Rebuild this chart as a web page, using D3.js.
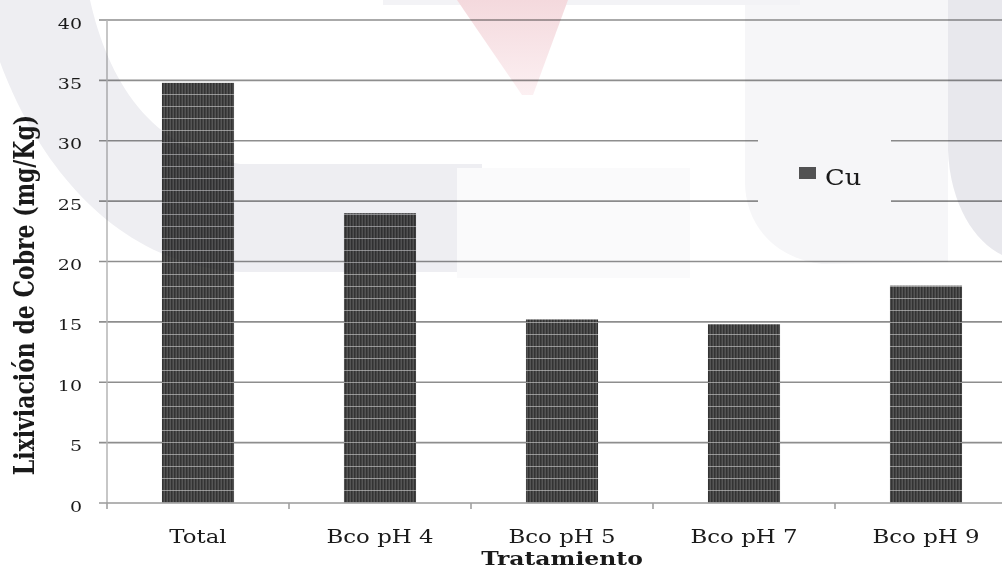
<!DOCTYPE html>
<html>
<head>
<meta charset="utf-8">
<script src="https://cdn.jsdelivr.net/npm/d3@7/dist/d3.min.js"></script>
<style>
  html, body { margin: 0; padding: 0; background: #ffffff; }
  svg { display: block; }
  text { font-family: "DejaVu Serif", serif; fill: #1a1a1a; }
</style>
</head>
<body>
<svg id="chart" width="1002" height="570"></svg>
<script>
// Copper leaching per treatment (mg/Kg)
const categories = ["Total", "Bco pH 4", "Bco pH 5", "Bco pH 7", "Bco pH 9"];
const cuValues = [34.8, 24.0, 15.2, 14.8, 18.0];
const yTicks = [0, 5, 10, 15, 20, 25, 30, 35, 40];
const seriesName = "Cu";
const yTitle = "Lixiviación de Cobre (mg/Kg)";
const xTitle = "Tratamiento";

const W = 1002, H = 570;
const plot = { left: 107, right: 1017, top: 20, bottom: 503 };
const stretch = 1.27; // glyphs are drawn slightly wide

const svg = d3.select("#chart");

const x = d3.scaleBand()
  .domain(categories)
  .range([plot.left, plot.right])
  .paddingInner(0.604)
  .paddingOuter(0.302);

const y = d3.scaleLinear()
  .domain([0, 40])
  .range([plot.bottom, plot.top]);

// Bar fill: dark fine vertical stripes crossed by light horizontal rules
const defs = svg.append("defs");
const pat = defs.append("pattern")
  .attr("id", "barPattern")
  .attr("patternUnits", "userSpaceOnUse")
  .attr("width", 3)
  .attr("height", 12)
  .attr("y", y(0));
pat.append("rect").attr("width", 3).attr("height", 12).attr("fill", "#555555");
pat.append("rect").attr("width", 1.5).attr("height", 12).attr("fill", "#333333");
pat.append("rect").attr("y", 11.4).attr("width", 3).attr("height", 1.3).attr("fill", "#d2d2d2");

const triGrad = defs.append("linearGradient")
  .attr("id", "triGrad").attr("x1", 0).attr("y1", 0).attr("x2", 0).attr("y2", 1);
triGrad.append("stop").attr("offset", 0).attr("stop-color", "#f4d9dd");
triGrad.append("stop").attr("offset", 1).attr("stop-color", "#fcf0f2");

// Horizontal gridlines with short outer ticks on the left
svg.append("g")
  .selectAll("line")
  .data(yTicks.filter(d => d > 0))
  .join("line")
  .attr("x1", plot.left - 8)
  .attr("x2", W)
  .attr("y1", d => y(d))
  .attr("y2", d => y(d))
  .attr("stroke", "#8e8e8e")
  .attr("stroke-width", 1.6);

// Value axis line
svg.append("line")
  .attr("x1", plot.left).attr("x2", plot.left)
  .attr("y1", y(40)).attr("y2", y(0))
  .attr("stroke", "#b4b4b4").attr("stroke-width", 1.5);

// Bars
svg.append("g")
  .selectAll("rect")
  .data(categories.map((c, i) => ({ c, v: cuValues[i] })))
  .join("rect")
  .attr("x", d => x(d.c))
  .attr("width", x.bandwidth())
  .attr("y", d => y(d.v))
  .attr("height", d => y(0) - y(d.v))
  .attr("fill", "url(#barPattern)");

// Category axis line and boundary ticks
svg.append("line")
  .attr("x1", plot.left - 8).attr("x2", W)
  .attr("y1", y(0)).attr("y2", y(0))
  .attr("stroke", "#9a9a9a").attr("stroke-width", 1.6);

const boundaries = categories.map(c => x(c) - x.step() * x.paddingOuter());
svg.append("g")
  .selectAll("line")
  .data(boundaries)
  .join("line")
  .attr("x1", d => d).attr("x2", d => d)
  .attr("y1", y(0)).attr("y2", y(0) + 6)
  .attr("stroke", "#a0a0a0").attr("stroke-width", 1.6);

// Tick labels on the value axis
svg.append("g")
  .selectAll("text")
  .data(yTicks)
  .join("text")
  .attr("transform", d => `translate(82,${y(d) + 8.5}) scale(${stretch},1)`)
  .attr("text-anchor", "end")
  .attr("font-size", 15)
  .text(d => d);

// Category labels
svg.append("g")
  .selectAll("text")
  .data(categories)
  .join("text")
  .attr("transform", d => `translate(${x(d) + x.bandwidth() / 2},543) scale(${stretch},1)`)
  .attr("text-anchor", "middle")
  .attr("font-size", 18)
  .text(d => d);

// Axis titles
svg.append("text")
  .attr("transform", `translate(${(plot.left + plot.right) / 2},565) scale(${stretch},1)`)
  .attr("text-anchor", "middle")
  .attr("font-size", 18.5)
  .attr("font-weight", "bold")
  .text(xTitle);

svg.append("text")
  .attr("transform", `translate(34,295) rotate(-90) scale(1,${stretch})`)
  .attr("text-anchor", "middle")
  .attr("font-size", 22)
  .attr("font-weight", "bold")
  .text(yTitle);

// Legend
const legend = svg.append("g");
legend.append("rect")
  .attr("x", 758).attr("y", 112).attr("width", 133).attr("height", 120)
  .attr("fill", "#ffffff");
legend.append("rect")
  .attr("x", 799).attr("y", 167).attr("width", 17).attr("height", 12)
  .attr("fill", "#555555");
legend.append("text")
  .attr("transform", `translate(825,185) scale(1.12,1)`)
  .attr("font-size", 23)
  .text(seriesName);

// Faint background emblem laid over the chart
const mark = svg.append("g").style("mix-blend-mode", "multiply").attr("pointer-events", "none");
mark.append("path")
  .attr("d", "M0,0 L90,0 C108,80 150,150 240,164 L482,164 L482,272 L240,272 C120,265 40,170 0,62 Z")
  .attr("fill", "#eeeef2");
mark.append("path")
  .attr("d", "M745,0 L948,0 L948,262 L822,264 C772,258 745,222 745,182 Z")
  .attr("fill", "#f6f6f8");
mark.append("path")
  .attr("d", "M948,0 L1002,0 L1002,255 C975,242 950,205 948,150 Z")
  .attr("fill", "#e8e8ed");
mark.append("path")
  .attr("d", "M457,168 L690,168 L690,278 L457,278 Z")
  .attr("fill", "#fafafb");
mark.append("path")
  .attr("d", "M383,0 L800,0 L800,5 L383,5 Z")
  .attr("fill", "#f3f3f6");
mark.append("path")
  .attr("d", "M457,0 L568,0 L533,95 L522,95 Z")
  .attr("fill", "url(#triGrad)");
</script>
</body>
</html>
